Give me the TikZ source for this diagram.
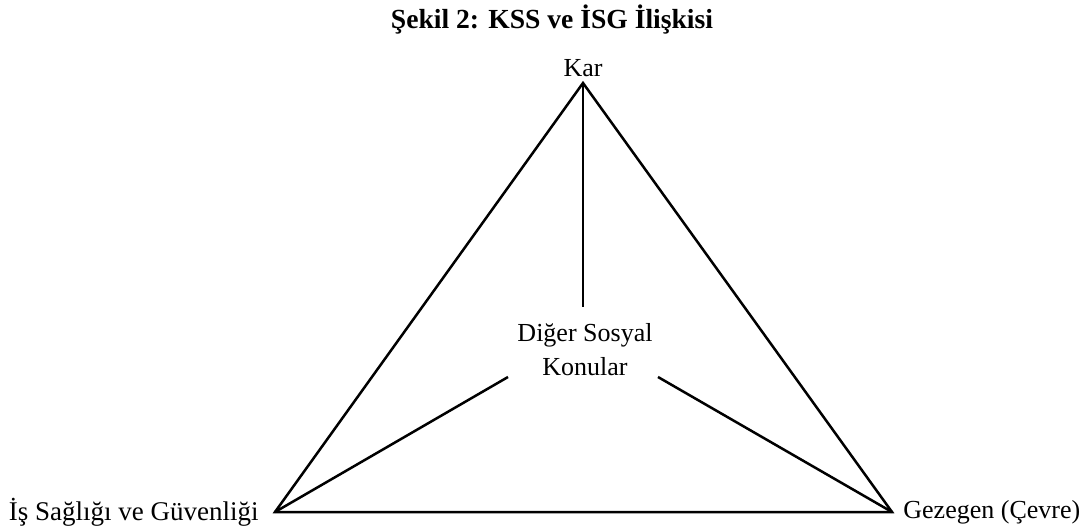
\documentclass[tikz,border=0pt]{standalone}
\usepackage{fontspec}
\setmainfont{Liberation Serif}
\usetikzlibrary{positioning}

\begin{document}
\begin{tikzpicture}[
    x=0.5pt, y=-0.5pt,
    corner/.style={font=\fontsize{13}{16}\selectfont, inner sep=0pt},
    spoke/.style={line width=1.25pt},
    edgeline/.style={line width=1.25pt, line join=miter}
]
\useasboundingbox (0,0) rectangle (1092,530);

% --- Title ---
\node[font=\fontsize{13.8}{16}\selectfont\bfseries] (title) at (552,20) {Şekil 2: KSS ve İSG İlişkisi};

% --- Triangle corners ---
\coordinate (kartop) at (583,83);
\coordinate (isgleft) at (275,512);
\coordinate (cevreright) at (892,512);

\node[corner, above=3pt of kartop] (kar) {Kar};
\node[corner, anchor=east, font=\fontsize{13.5}{16}\selectfont] (isg) at (259,512) {İş Sağlığı ve Güvenliği};
\node[corner, anchor=west] (cevre) at (903,512) {Gezegen (Çevre)};

% --- Middle label ---
\node[corner, align=center, font=\fontsize{13}{17}\selectfont] (diger) at (585,350) {Diğer Sosyal\\Konular};

% --- Spoke ends ---
\coordinate (topend) at (583,307);
\coordinate (leftend) at (508,377);
\coordinate (rightend) at (658,377);

% --- Edges ---
\draw[edgeline] (kartop) -- (isgleft) -- (cevreright) -- cycle;

\draw[spoke] (kartop) -- (topend);
\draw[spoke] (isgleft) -- (leftend);
\draw[spoke] (cevreright) -- (rightend);

\end{tikzpicture}
\end{document}
